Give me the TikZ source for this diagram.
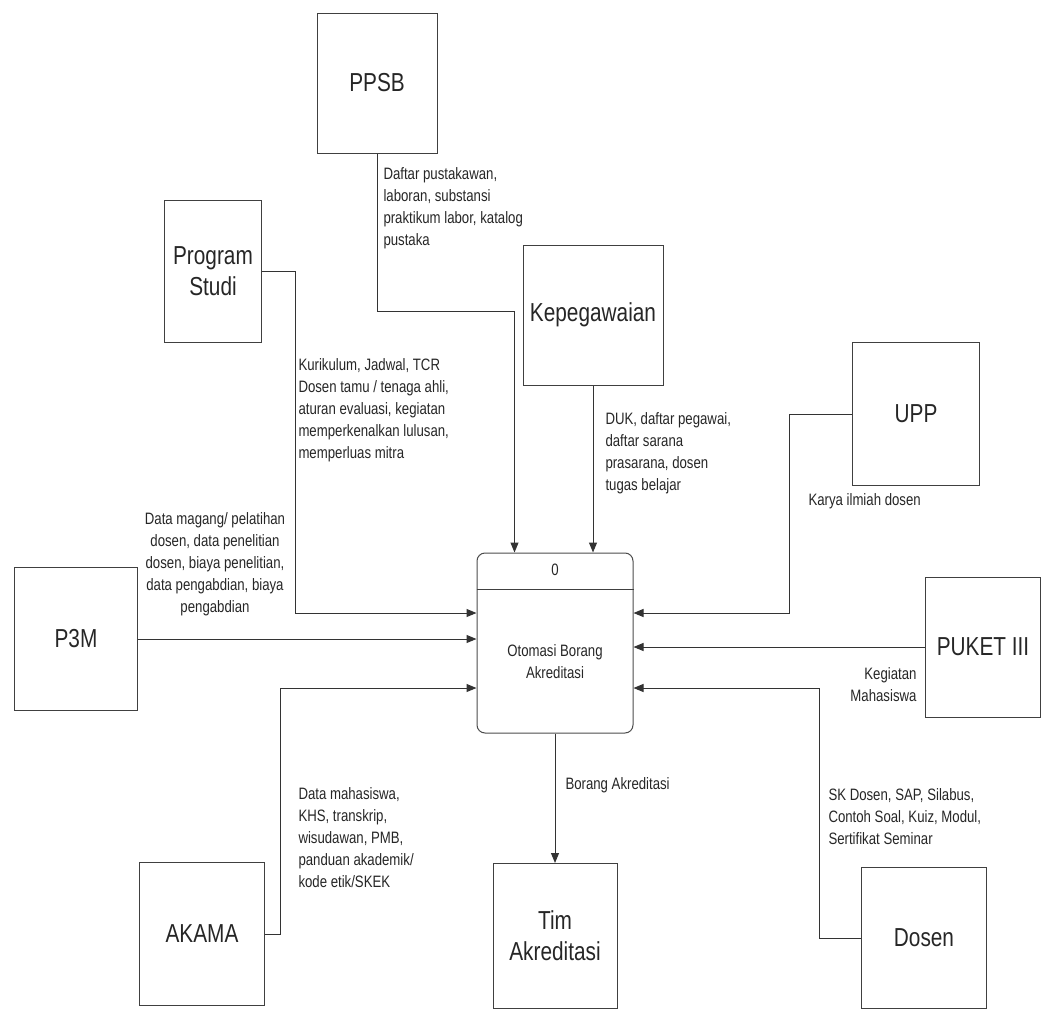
\documentclass[tikz,border=0pt]{standalone}
\usepackage{fontspec}
\setmainfont{Liberation Sans}[FakeStretch=0.8]
\usetikzlibrary{positioning,calc,arrows.meta}

\newcommand{\boxfont}{\fontsize{26}{31}\selectfont}
\newcommand{\lblfont}{\fontsize{16.5}{22}\selectfont}

\begin{document}
\begin{tikzpicture}[x=1pt,y=-1pt,line width=1pt]
          \tikzstyle{every node}=[font=\lblfont,text=black!85]
          \tikzstyle{entity}=[draw=black!75,font=\boxfont,align=center,minimum width=#1]
          \tikzstyle{flow}=[draw=black!80,-{Triangle[length=10pt,width=8pt]}]
          \tikzstyle{lbl}=[inner sep=0pt,align=left]

      \useasboundingbox (0,0) rectangle (1045,1009);

      % external entities
      \node[entity=120,minimum height=140] (ppsb) at (377,83) {PPSB};
      \node[entity=97,minimum height=142] (prodi) at (213,271) {Program\\Studi};
      \node[entity=140,minimum height=140] (kepeg) at (593,315) {Kepegawaian};
      \node[entity=127,minimum height=143] (upp) at (916,414) {UPP};
      \node[entity=123,minimum height=143] (p3m) at (76,639) {P3M};
      \node[entity=115,minimum height=140] (puket) at (983,647) {PUKET III};
      \node[entity=125,minimum height=143] (akama) at (202,934) {AKAMA};
      \node[entity=124,minimum height=145] (tim) at (555,936) {Tim\\Akreditasi};
      \node[entity=125,minimum height=141] (dosen) at (924,938) {Dosen};

      % process
      \node[draw=black!70,rounded corners=8pt,minimum width=156,minimum height=180] (proc) at (555,643) {};
      \draw[black!75] ([yshift=-37pt]proc.north west) -- ([yshift=-37pt]proc.north east);
      \node (procid) at (555,570) {0};
      \node[align=center] (proctxt) at (555,662) {Otomasi Borang\\Akreditasi};

      % data flows
      \draw[flow] (ppsb.south) -- ++(0,158) -| ([xshift=38pt]proc.north west);
      \draw[flow] (kepeg.south) -- (kepeg.south |- proc.north);
      \draw[flow] (prodi.east) -- ++(33,0) |- ([yshift=30pt]proc.west);
      \draw[flow] (p3m.east) -- (proc.west |- p3m.east);
      \draw[flow] (akama.east) -- ++(15,0) |- ([yshift=-45pt]proc.west);
      \draw[flow] (upp.west) -- ++(-63,0) |- ([yshift=30pt]proc.east);
      \draw[flow] (puket.west) -- (proc.east |- puket.west);
      \draw[flow] (dosen.west) -- ++(-42,0) |- ([yshift=-45pt]proc.east);
      \draw[flow] (proc.south) -- (tim.north);

      % flow labels
      \node[lbl,anchor=north west] (lppsb) at (383,167) {Daftar pustakawan,\\laboran, substansi\\praktikum labor, katalog\\pustaka};
      \node[lbl,anchor=north west] (lprodi) at (298,358) {Kurikulum, Jadwal, TCR\\Dosen tamu / tenaga ahli,\\aturan evaluasi, kegiatan\\memperkenalkan lulusan,\\memperluas mitra};
      \node[lbl,anchor=north west] (lkepeg) at (605,412) {DUK, daftar pegawai,\\daftar sarana\\prasarana, dosen\\tugas belajar};
      \node[lbl,anchor=north west] (lupp) at (808,493) {Karya ilmiah dosen};
      \node[lbl,align=center,anchor=north] (lp3m) at (215,512) {Data magang/ pelatihan\\dosen, data penelitian\\dosen, biaya penelitian,\\data pengabdian, biaya\\pengabdian};
      \node[lbl,align=right,anchor=north east] (lpuket) at (917,667) {Kegiatan\\Mahasiswa};
      \node[lbl,anchor=west] (ltim) at (565,785) {Borang Akreditasi};
      \node[lbl,anchor=north west] (lakama) at (298,787) {Data mahasiswa,\\KHS, transkrip,\\wisudawan, PMB,\\panduan akademik/\\kode etik/SKEK};
      \node[lbl,anchor=north west] (ldosen) at (828,788) {SK Dosen, SAP, Silabus,\\Contoh Soal, Kuiz, Modul,\\Sertifikat Seminar};

\end{tikzpicture}
\end{document}
